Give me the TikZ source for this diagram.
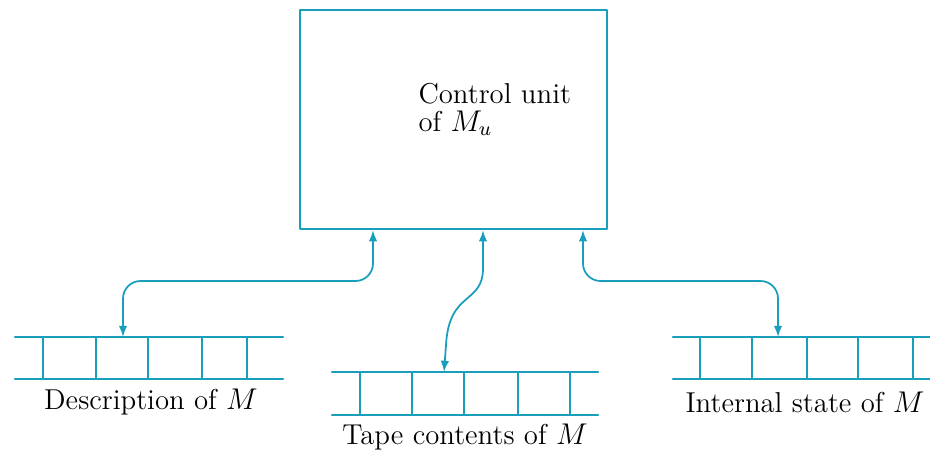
\documentclass[tikz,border=0pt]{standalone}
\usepackage{tikz}
\usetikzlibrary{arrows.meta,positioning,calc}
\definecolor{tmTeal}{RGB}{25, 158, 188}

\begin{document}
\begin{tikzpicture}[x=0.4pt, y=-0.4pt, line cap=round, line join=round,
    tapeline/.style={tmTeal, line width=0.9pt},
    link/.style={tmTeal, line width=0.7pt,
        {Latex[length=4.5pt,width=3.4pt]}-{Latex[length=4.5pt,width=3.4pt]}},
    tapelabel/.style={font=\fontsize{11.5}{14}\selectfont, inner sep=0pt}]
    \useasboundingbox (0,0) rectangle (930,454);

    % control unit
    \node[draw=tmTeal, line width=0.9pt, minimum width=122.8pt, minimum height=87.6pt] (ctrl) at (453.5,119.5) {};
    \node[align=left, anchor=north west, inner sep=0pt, font=\fontsize{11.5}{11}\selectfont] (ctrltext) at (418,83) {Control unit\\of $M_u$};
    \coordinate (c1) at (ctrl.south -| 373,0);
    \coordinate (c2) at (ctrl.south -| 483,0);
    \coordinate (c3) at (ctrl.south -| 583,0);

    % tapes
    \draw[tapeline] (15,337) -- (283,337) (15,379) -- (283,379);
    \foreach \x in {43,96,148,202,247} \draw[tapeline] (\x,337) -- (\x,379);
    \coordinate (desc) at (123,337);
    \node[tapelabel] (desclabel) at (151,402) {Description of $M$};

    \draw[tapeline] (332,372) -- (598,372) (332,415) -- (598,415);
    \foreach \x in {360,412,464,518,570} \draw[tapeline] (\x,372) -- (\x,415);
    \coordinate (tape) at (444,372);
    \node[tapelabel] (tapelabel) at (465,437) {Tape contents of $M$};

    \draw[tapeline] (673,337) -- (930,337) (673,379) -- (930,379);
    \foreach \x in {700,752,807,858,913} \draw[tapeline] (\x,337) -- (\x,379);
    \coordinate (state) at (778,337);
    \node[tapelabel] (statelabel) at (805,402) {Internal state of $M$};

    % connections
    \draw[link, rounded corners=7pt] (desc) -- (desc |- 0,281) -- (c1 |- 0,281) -- (c1);
    \draw[link, rounded corners=7pt] (state) -- (state |- 0,281) -- (c3 |- 0,281) -- (c3);
    \draw[link] (tape) -- (446,345) .. controls (449,290) and (483,305) .. (483,268) -- (c2);
\end{tikzpicture}
\end{document}
